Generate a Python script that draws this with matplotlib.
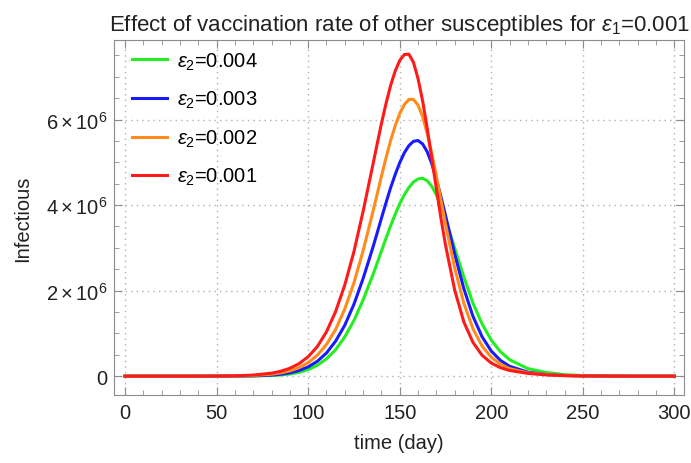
#!/usr/bin/env python3

import matplotlib
matplotlib.use("Agg")
import matplotlib.pyplot as plt
from matplotlib.ticker import MultipleLocator, FuncFormatter

plt.rcParams["font.family"] = ["Liberation Sans", "DejaVu Sans"]
plt.rcParams["mathtext.fontset"] = "custom"
plt.rcParams["mathtext.rm"] = "Liberation Sans"
plt.rcParams["mathtext.it"] = "Liberation Sans:italic"

# time in days
days = [0, 20, 40, 50, 60, 70, 80,
        85, 90, 95, 100, 105, 110, 115, 120, 125, 130,
        135, 137.5, 140, 142.5, 145, 147.5, 150, 152.5, 155, 157.5, 160,
        162.5, 165, 167.5, 170, 172.5, 175,
        180, 185, 190, 195, 200, 205, 210,
        220, 230, 240, 250, 275, 300]

# infectious, millions
inf_004 = [0, 0, 0, 0, 0.001, 0.004, 0.015,
           0.028, 0.05, 0.089, 0.153, 0.253, 0.404, 0.62, 0.917, 1.30, 1.78,
           2.33, 2.62, 2.92, 3.22, 3.51, 3.78, 4.03, 4.24, 4.41, 4.54, 4.61,
           4.63, 4.57, 4.44, 4.24, 3.98, 3.68,
           3.00, 2.32, 1.71, 1.22, 0.843, 0.572, 0.386,
           0.177, 0.086, 0.035, 0.014, 0.001, 0]
inf_003 = [0, 0, 0, 0.0005, 0.002, 0.008, 0.025,
           0.044, 0.077, 0.131, 0.216, 0.347, 0.54, 0.818, 1.19, 1.68, 2.28,
           2.96, 3.32, 3.69, 4.05, 4.40, 4.71, 4.99, 5.22, 5.39, 5.49, 5.51,
           5.43, 5.25, 4.97, 4.61, 4.20, 3.76,
           2.86, 2.05, 1.40, 0.92, 0.587, 0.369, 0.231,
           0.093, 0.038, 0.016, 0.006, 0.0005, 0]
inf_002 = [0, 0, 0.0005, 0.0015, 0.005, 0.016, 0.045,
           0.075, 0.123, 0.199, 0.315, 0.489, 0.74, 1.09, 1.57, 2.18, 2.93,
           3.78, 4.22, 4.67, 5.10, 5.50, 5.85, 6.14, 6.35, 6.47, 6.47, 6.34,
           6.07, 5.68, 5.21, 4.68, 4.12, 3.56,
           2.54, 1.71, 1.11, 0.705, 0.442, 0.278, 0.176,
           0.077, 0.035, 0.015, 0.006, 0, 0]
inf_001 = [0, 0, 0.001, 0.003, 0.009, 0.025, 0.07,
           0.114, 0.184, 0.291, 0.454, 0.69, 1.035, 1.51, 2.13, 2.91, 3.85,
           4.87, 5.39, 5.90, 6.37, 6.79, 7.13, 7.38, 7.52, 7.53, 7.34, 6.96,
           6.44, 5.80, 5.10, 4.39, 3.70, 3.07,
           2.02, 1.27, 0.79, 0.488, 0.306, 0.198, 0.133,
           0.065, 0.03, 0.012, 0.004, 0, 0]

series = [
    ("0.004", inf_004, "#22ee22"),
    ("0.003", inf_003, "#1a1aff"),
    ("0.002", inf_002, "#ff8c1a"),
    ("0.001", inf_001, "#ff1a1a"),
]


def sci_label(v, pos):
    if v == 0:
        return "0"
    return r"$%d\times10^{6}$" % round(v / 1e6)


fig = plt.figure(figsize=(6.91, 4.64), dpi=100)
ax = fig.add_axes([0.165, 0.1466, 0.825, 0.765])

for eps, vals, color in series:
    ax.plot(days, [v * 1e6 for v in vals], color=color, lw=2.2,
            label=r"$\varepsilon_2$=" + eps)

ax.set_xlim(-6, 305.3)
ax.set_ylim(-0.44e6, 7.86e6)

ax.xaxis.set_major_locator(MultipleLocator(50))
ax.xaxis.set_minor_locator(MultipleLocator(10))
ax.yaxis.set_major_locator(MultipleLocator(2e6))
ax.yaxis.set_minor_locator(MultipleLocator(0.5e6))
ax.yaxis.set_major_formatter(FuncFormatter(sci_label))

for s in ax.spines.values():
    s.set_color("#8c8c8c")
ax.tick_params(which="both", direction="in", top=True, right=True, color="#8c8c8c",
               labelsize=14.5, labelcolor="#222222")
ax.tick_params(which="major", length=6)
ax.tick_params(which="minor", length=3.5)
ax.tick_params(axis="x", pad=6)
ax.tick_params(axis="y", pad=5)

ax.grid(color="#b0b0b0", linestyle=(0, (1, 3)), linewidth=1)
ax.set_axisbelow(True)

ax.set_xlabel("time (day)", fontsize=14.5, color="#222222", labelpad=8)
ax.set_ylabel("Infectious", fontsize=14.5, color="#222222", labelpad=10)
ax.set_title(r"Effect of vaccination rate of other susceptibles for $\varepsilon_1$=0.001",
             fontsize=16, color="#222222", pad=7)

ax.legend(loc="upper left", bbox_to_anchor=(0.0, 1.022), frameon=False, fontsize=14.5,
          handlelength=1.75, labelspacing=0.86, handletextpad=0.5)

fig.savefig("out.png", dpi=100)
